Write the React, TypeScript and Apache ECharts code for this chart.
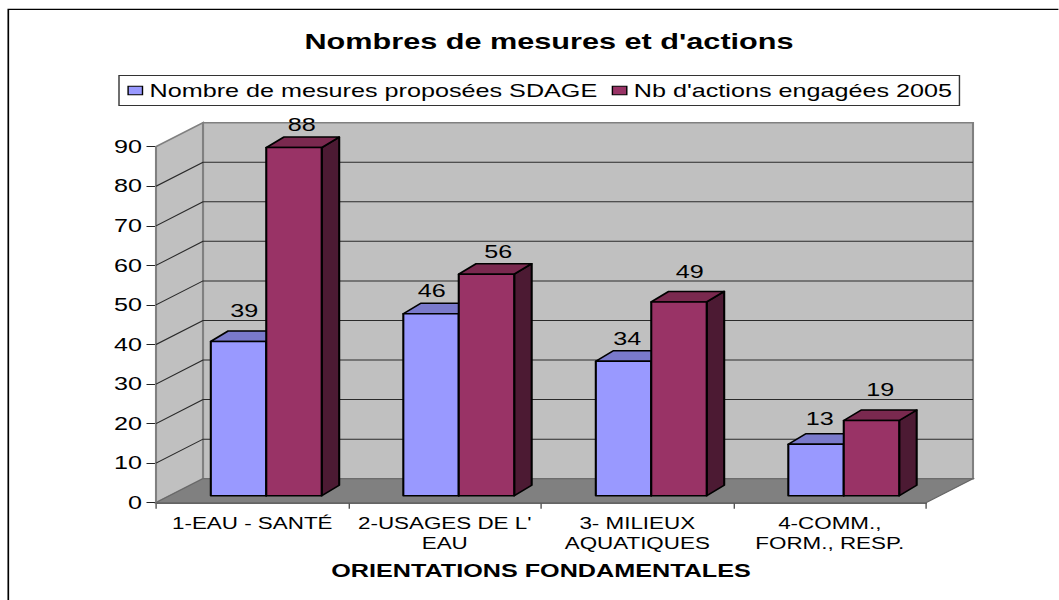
import React, { useEffect, useRef } from "react";
import * as echarts from "echarts";

const titleText = "Nombres de mesures et d'actions";
const axisTitle = "ORIENTATIONS FONDAMENTALES";
const categories = ["1-EAU - SANTÉ", "2-USAGES DE L'\nEAU", "3- MILIEUX\nAQUATIQUES", "4-COMM.,\nFORM., RESP."];
const seriesNames = ["Nombre de mesures proposées SDAGE", "Nb d'actions engagées 2005"];
const mesures = [39, 46, 34, 13];
const actions = [88, 56, 49, 19];
const yTicks = [10, 20, 30, 40, 50, 60, 70, 80, 90];

// The source picture is a horizontally stretched bitmap: the chart is laid out narrower and stretched by CSS.
const S = 1.4;
const W = 1059 / S;
const fontFamily = '"Liberation Sans", Arial, sans-serif';

const wallDX = 47 / S, wallDY = -24;
const barDX = 14 / S, barDY = -7;
const depthDX = 17.5 / S, depthDY = -10.5;
const barRatio = 0.288;

const palette = [
  { front: "#9999FF", top: "#7A7ACC", side: "#4D4D80" },
  { front: "#993366", top: "#7A294F", side: "#4C1A33" },
];
// Hand placement of the value labels, [dx, lift], per series and category
const labelPlace = [
  [[-3, 20], [-8, 12], [-5, 12], [-5, 15]],
  [[-1, 12], [3, 12], [2, 20], [0, 20]],
];

const rows = (vals: number[]) => vals.map((v, i) => [i, v]);

const wallRender = (params: any, api: any) => {
  const c = params.coordSys;
  const L = c.x, R = c.x + c.width, T = c.y, B = c.y + c.height;
  const children: any[] = [
    { type: "polygon", shape: { points: [[L + wallDX, T + wallDY], [R + wallDX, T + wallDY], [R + wallDX, B + wallDY], [L + wallDX, B + wallDY]] }, style: { fill: "#C0C0C0", stroke: "#808080", lineWidth: 1.5 } },
    { type: "polygon", shape: { points: [[L, T], [L + wallDX, T + wallDY], [L + wallDX, B + wallDY], [L, B]] }, style: { fill: "#C0C0C0", stroke: "#808080", lineWidth: 1.5 } },
    { type: "polygon", shape: { points: [[L, B], [L + wallDX, B + wallDY], [R + wallDX, B + wallDY], [R, B]] }, style: { fill: "#808080", stroke: "#666666", lineWidth: 1 } },
  ];
  yTicks.slice(0, -1).forEach((t) => {
    const y = api.coord([0, t])[1];
    children.push({
      type: "polyline",
      shape: { points: [[L, y], [L + wallDX, y + wallDY], [R + wallDX, y + wallDY]] },
      style: { fill: "none", stroke: "#2A2A2A", lineWidth: 1 },
    });
  });
  return { type: "group", children };
};

const barRender = (si: number) => (_p: any, api: any) => {
  const idx = api.value(0);
  const val = api.value(1);
  const topPt = api.coord([idx, val]);
  const basePt = api.coord([idx, 0]);
  const w = api.size([1, 0])[0] * barRatio;
  const x0 = topPt[0] + barDX + (si === 0 ? -w : 0);
  const x1 = x0 + w;
  const yT = topPt[1] + barDY;
  const yB = basePt[1] + barDY;
  const col = palette[si];
  const edge = { stroke: "#000000", lineWidth: 1.5, lineJoin: "round" };
  const [dx, lift] = labelPlace[si][idx];
  return {
    type: "group",
    children: [
      { type: "polygon", shape: { points: [[x1, yT], [x1 + depthDX, yT + depthDY], [x1 + depthDX, yB + depthDY], [x1, yB]] }, style: { fill: col.side, ...edge } },
      { type: "polygon", shape: { points: [[x0, yT], [x0 + depthDX, yT + depthDY], [x1 + depthDX, yT + depthDY], [x1, yT]] }, style: { fill: col.top, ...edge } },
      { type: "polygon", shape: { points: [[x0, yT], [x1, yT], [x1, yB], [x0, yB]] }, style: { fill: col.front, ...edge } },
      {
        type: "text",
        x: (x0 + x1) / 2 + depthDX / 2 + dx / S,
        y: yT + depthDY - lift,
        style: { text: String(val), fill: "#000000", font: `18px ${fontFamily}`, align: "center", verticalAlign: "middle" },
      },
    ],
  };
};

export default function App() {
  const ref = useRef<HTMLDivElement>(null);
  useEffect(() => {
    if (!ref.current) return;
    const chart = echarts.init(ref.current, undefined, { renderer: "svg" });
    chart.setOption({
      animation: false,
      backgroundColor: "#FFFFFF",
      title: {
        text: titleText,
        left: 542 / S,
        top: 26,
        textAlign: "center",
        textStyle: { fontFamily, fontSize: 21.9, fontWeight: "bold", color: "#000000" },
      },
      legend: {
        left: 119 / S,
        top: 75.5,
        data: seriesNames.map((name, i) => ({
          name,
          icon: "rect",
          itemStyle: { color: palette[i].front, borderColor: "#000000", borderWidth: 1 },
        })),
        itemWidth: 14.4 / S,
        itemHeight: 8.5,
        itemGap: 10,
        padding: [6, 5, 6, 6],
        borderColor: "#333333",
        borderWidth: 1,
        backgroundColor: "#FFFFFF",
        textStyle: { fontFamily, fontSize: 18, color: "#000000", padding: [0, 0, 0, 0] },
      },
      graphic: [
        {
          type: "polyline",
          shape: { points: [[8.3 / S, 640], [8.3 / S, 9.3], [W + 20, 9.3]] },
          style: { fill: "none", stroke: "#000000", lineWidth: 1.2 },
          silent: true,
        },
      ],
      grid: { left: 156 / S, width: 770 / S, top: 146.7, height: 356 },
      xAxis: {
        type: "category",
        data: categories,
        name: axisTitle,
        nameLocation: "middle",
        nameGap: 59,
        nameTextStyle: { fontFamily, fontSize: 18, fontWeight: "bold", color: "#000000" },
        axisLine: { lineStyle: { color: "#333333", width: 1.5 } },
        axisTick: { show: true, length: 6, lineStyle: { color: "#555555", width: 1 } },
        axisLabel: { interval: 0, fontFamily, fontSize: 16, color: "#000000", margin: 11, lineHeight: 20 },
        splitLine: { show: false },
      },
      yAxis: {
        type: "value",
        min: 0,
        max: 90,
        interval: 10,
        axisLine: { show: true, lineStyle: { color: "#555555", width: 1.5 } },
        axisTick: { show: true, length: 9.5 / S, lineStyle: { color: "#222222", width: 1 } },
        axisLabel: { fontFamily, fontSize: 18, color: "#000000", margin: 14 / S },
        splitLine: { show: false },
      },
      series: [
        { type: "custom", name: "wall", silent: true, z: 1, renderItem: wallRender, data: [[0, 0]], encode: { x: 0, y: 1 }, clip: false },
        { type: "custom", name: seriesNames[0], z: 2, renderItem: barRender(0), data: rows(mesures), encode: { x: 0, y: 1 }, itemStyle: { color: palette[0].front }, clip: false },
        { type: "custom", name: seriesNames[1], z: 2, renderItem: barRender(1), data: rows(actions), encode: { x: 0, y: 1 }, itemStyle: { color: palette[1].front }, clip: false },
      ],
    });
    return () => chart.dispose();
  }, []);
  return (
    <div
      ref={ref}
      style={{ position: "absolute", left: 0, top: 0, width: W, height: 600, transform: `scaleX(${S})`, transformOrigin: "0 0" }}
    />
  );
}
